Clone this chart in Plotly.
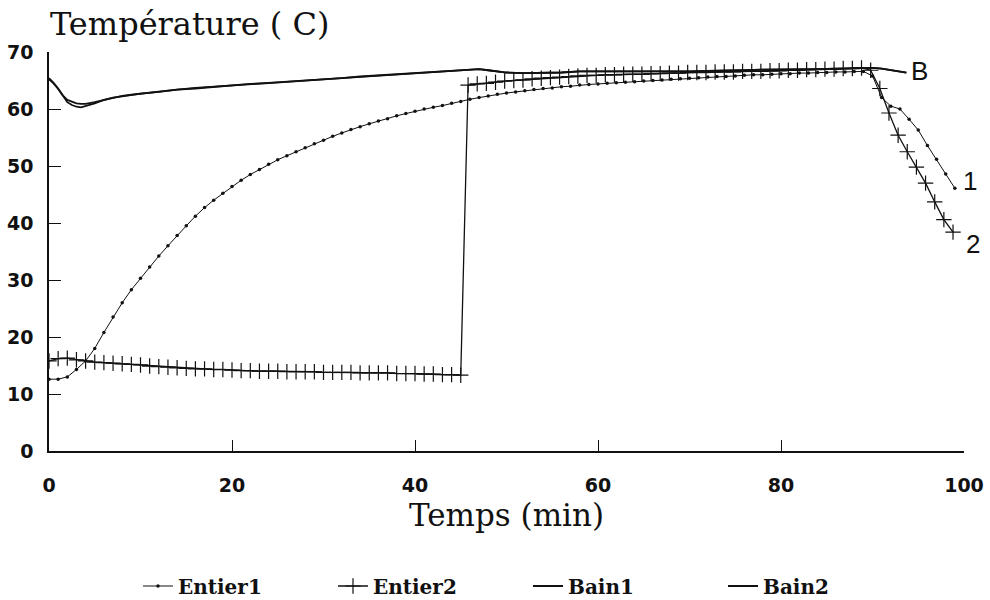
import plotly.graph_objects as go

# ---------------- data ----------------
t_entier1 = list(range(100))
entier1 = [12.6, 12.6, 13.0, 14.3, 15.8, 18.0, 20.8, 23.5, 26.0, 28.3,
           30.3, 32.3, 34.2, 36.0, 37.8, 39.5, 41.2, 42.7, 44.0, 45.2,
           46.4, 47.5, 48.5, 49.4, 50.3, 51.1, 51.8, 52.5, 53.2, 53.9,
           54.5, 55.2, 55.8, 56.4, 56.9, 57.4, 57.9, 58.3, 58.8, 59.2,
           59.6, 60.0, 60.3, 60.6, 61.0, 61.3, 61.7, 62.0, 62.3, 62.6,
           62.8, 63.0, 63.2, 63.4, 63.6, 63.7, 63.9, 64.0, 64.2, 64.3,
           64.4, 64.5, 64.6, 64.7, 64.8, 64.9, 65.0, 65.1, 65.2, 65.3,
           65.4, 65.5, 65.6, 65.7, 65.7, 65.8, 65.9, 66.0, 66.0, 66.1,
           66.2, 66.2, 66.3, 66.3, 66.4, 66.4, 66.5, 66.5, 66.6, 66.6,
           65.8, 62.0, 60.5, 60.0, 58.2, 56.3, 53.6, 51.2, 48.6, 46.1]

t_entier2 = list(range(46)) + [45.8 + k for k in range(54)]
entier2 = [15.8, 16.2, 16.3, 16.0, 15.8, 15.6, 15.5, 15.4, 15.3, 15.2,
           15.1, 14.9, 14.8, 14.7, 14.6, 14.5, 14.4, 14.4, 14.3, 14.3,
           14.2, 14.1, 14.1, 14.0, 14.0, 14.0, 13.9, 13.9, 13.9, 13.9,
           13.8, 13.8, 13.8, 13.8, 13.7, 13.7, 13.7, 13.7, 13.6, 13.6,
           13.6, 13.5, 13.5, 13.4, 13.4, 13.3,
           64.2, 64.4, 64.5, 64.7, 64.9, 65.0, 65.1, 65.3, 65.4, 65.5,
           65.6, 65.7, 65.8, 65.9, 65.9, 66.0, 66.0, 66.1, 66.1, 66.1,
           66.2, 66.2, 66.3, 66.3, 66.4, 66.4, 66.4, 66.5, 66.5, 66.5,
           66.6, 66.6, 66.6, 66.7, 66.7, 66.8, 66.8, 66.9, 66.9, 67.0,
           67.0, 67.1, 67.1, 67.2,
           66.8, 63.6, 59.3, 55.4, 52.5, 49.8, 47.0, 43.7, 40.6, 38.4]

t_bain = [0, 0.5, 1, 1.5, 2, 2.5, 3, 3.5, 4, 5, 6, 7, 8, 9, 10, 12, 14, 16, 18, 20,
          22, 24, 26, 28, 30, 32, 34, 36, 38, 40, 42, 44, 46, 47, 48, 50, 52, 54,
          56, 58, 60, 62, 64, 66, 68, 70, 72, 74, 76, 78, 80, 82, 84, 86, 88, 90,
          91, 92, 93, 93.7]
bain1 = [65.4, 64.6, 63.6, 62.3, 61.2, 60.7, 60.4, 60.3, 60.5, 61.0, 61.6, 62.0,
         62.2, 62.5, 62.7, 63.0, 63.4, 63.6, 63.9, 64.1, 64.4, 64.6, 64.8, 65.0,
         65.2, 65.4, 65.6, 65.9, 66.1, 66.3, 66.5, 66.7, 66.9, 67.0, 66.8, 66.4,
         66.3, 66.3, 66.4, 66.6, 66.6, 66.5, 66.5, 66.5, 66.6, 66.6, 66.7, 66.7,
         66.8, 66.9, 66.9, 67.0, 67.0, 67.1, 67.2, 67.2, 67.1, 66.8, 66.5, 66.4]
bain2 = [65.2, 64.5, 63.5, 62.4, 61.6, 61.3, 61.0, 60.9, 60.9, 61.2, 61.6, 62.0,
         62.3, 62.5, 62.7, 63.1, 63.4, 63.7, 63.9, 64.2, 64.4, 64.6, 64.8, 65.0,
         65.2, 65.4, 65.7, 65.9, 66.1, 66.3, 66.5, 66.7, 66.9, 67.0, 66.8, 66.4,
         66.3, 66.3, 66.4, 66.6, 66.6, 66.5, 66.5, 66.6, 66.6, 66.6, 66.7, 66.7,
         66.8, 66.9, 66.9, 67.0, 67.0, 67.1, 67.2, 67.2, 67.1, 66.8, 66.5, 66.4]

curve_labels = ["B", "1", "2"]
curve_label_x = [94.0, 99.0, 99.0]
curve_label_y = [66.7, 47.4, 36.4]
curve_label_shift = [0, 6, 9]

x_ticks = [0, 20, 40, 60, 80, 100]
y_ticks = [0, 10, 20, 30, 40, 50, 60, 70]

INK = "#111111"
TITLE_FONT = "DejaVu Serif"
TICK_FONT = "DejaVu Sans"

fig = go.Figure()
fig.add_trace(go.Scatter(x=t_entier1, y=entier1, name="Entier1", mode="lines+markers",
                         line=dict(color=INK, width=1),
                         marker=dict(symbol="circle", size=3.5, color=INK)))
fig.add_trace(go.Scatter(x=t_entier2, y=entier2, name="Entier2", mode="lines+markers",
                         line=dict(color=INK, width=1.3),
                         marker=dict(symbol="cross-thin", size=11, color=INK,
                                     line=dict(color=INK, width=1.2))))
fig.add_trace(go.Scatter(x=t_bain, y=bain1, name="Bain1", mode="lines",
                         line=dict(color=INK, width=1.8)))
fig.add_trace(go.Scatter(x=t_bain, y=bain2, name="Bain2", mode="lines",
                         line=dict(color=INK, width=1.8)))

for lab, lx, ly, sh in zip(curve_labels, curve_label_x, curve_label_y, curve_label_shift):
    fig.add_annotation(x=lx, y=ly, text=lab, showarrow=False, xanchor="left", xshift=sh,
                       font=dict(family="Liberation Sans", size=26, color=INK))

fig.update_layout(
    width=990, height=600,
    paper_bgcolor="white", plot_bgcolor="white",
    margin=dict(l=49, r=26, t=52, b=149, autoexpand=False),
    title=dict(text="Température ( C)", x=50 / 990, xanchor="left", xref="container",
               y=1 - 24 / 600, yanchor="middle", yref="container",
               font=dict(family=TITLE_FONT, size=32, color=INK)),
    showlegend=True,
    legend=dict(orientation="h", x=(138 - 49) / 915, xanchor="left",
                y=(451 - 586) / 399, yanchor="middle",
                entrywidth=150, entrywidthmode="pixels",
                font=dict(family=TITLE_FONT, size=20, color=INK, weight="bold"),
                bgcolor="rgba(0,0,0,0)"),
    xaxis=dict(range=[0, 100], tickvals=x_ticks, ticks="inside", ticklen=11,
               tickwidth=1.3, tickcolor=INK, showline=True, linecolor=INK, linewidth=1.5,
               showgrid=False, zeroline=False, ticklabelstandoff=16, automargin=False,
               tickfont=dict(family=TICK_FONT, size=19, color=INK, weight="bold"),
               title=dict(text="Temps (min)", standoff=10,
                          font=dict(family=TITLE_FONT, size=31, color=INK))),
    yaxis=dict(range=[0, 70], tickvals=y_ticks, ticks="inside", ticklen=12,
               tickwidth=1.3, tickcolor=INK, showline=True, linecolor=INK, linewidth=1.5,
               showgrid=False, zeroline=False, ticklabelstandoff=10, automargin=False,
               tickfont=dict(family=TICK_FONT, size=19, color=INK, weight="bold")),
)

fig.write_html("out.html")
